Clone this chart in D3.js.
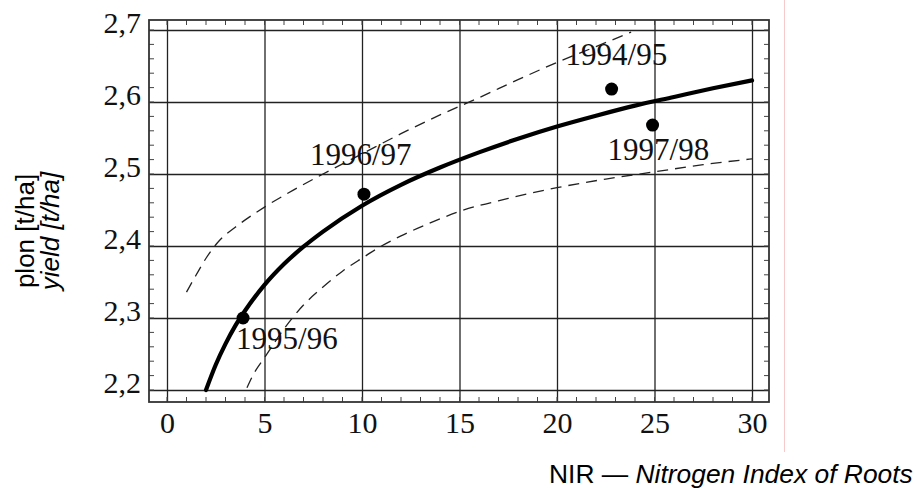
<!DOCTYPE html>
<html>
<head>
<meta charset="utf-8">
<script src="https://cdn.jsdelivr.net/npm/d3@7"></script>
<style>
  html, body { margin: 0; padding: 0; background: #fff; }
  svg { display: block; }
</style>
</head>
<body>
<svg id="chart" width="918" height="488"></svg>
<script>
// ---------- data ----------
const xTicks = [0, 5, 10, 15, 20, 25, 30];
const xTickLabels = ["0", "5", "10", "15", "20", "25", "30"];
const yTicks = [2.2, 2.3, 2.4, 2.5, 2.6, 2.7];
const yTickLabels = ["2,2", "2,3", "2,4", "2,5", "2,6", "2,7"];

// fitted (regression) curve
const fitX = [2, 2.5, 3, 3.5, 4, 5, 6, 7, 8, 10, 12, 14, 16, 18, 20, 22, 24, 26, 28, 30];
const fitY = [2.200, 2.235, 2.264, 2.289, 2.310, 2.346, 2.375, 2.399, 2.420, 2.456,
              2.485, 2.509, 2.530, 2.549, 2.566, 2.581, 2.595, 2.607, 2.619, 2.630];

// upper confidence band (dashed)
const upperX = [1, 1.5, 2, 2.7, 3.5, 5, 6.5, 8, 10, 12, 14, 16, 18, 20, 22, 23.8];
const upperY = [2.336, 2.360, 2.383, 2.408, 2.426, 2.454, 2.478, 2.500, 2.528,
                2.556, 2.582, 2.606, 2.631, 2.655, 2.677, 2.697];

// lower confidence band (dashed)
const lowerX = [4.1, 4.5, 5, 6, 7, 8, 9, 10, 11, 12, 13.5, 15, 17.5, 20, 22.5, 25, 27.5, 30];
const lowerY = [2.203, 2.225, 2.245, 2.285, 2.318, 2.343, 2.365, 2.383, 2.400, 2.414,
                2.432, 2.448, 2.466, 2.481, 2.493, 2.503, 2.513, 2.521];

// observed seasons
const seasons = ["1994/95", "1997/98", "1996/97", "1995/96"];
const nirValues = [22.8, 24.9, 10.1, 3.9];
const yieldValues = [2.618, 2.568, 2.472, 2.300];

const yLabel1 = "plon [t/ha]";
const yLabel2 = "yield [t/ha]";
const xLabel1 = "NIR \u2014 ";
const xLabel2 = "Nitrogen Index of Roots";

// ---------- layout ----------
const svg = d3.select("#chart");
const x = d3.scaleLinear().domain([0, 30]).range([167, 752]);
const y = d3.scaleLinear().domain([2.2, 2.7]).range([390, 30]);

const frame = { left: x(0) - 18, right: x(30) + 17, top: y(2.7) - 10, bottom: y(2.2) + 12 };
const frameW = frame.right - frame.left;
const frameH = frame.bottom - frame.top;

const serif = "'Liberation Serif', 'Times New Roman', serif";
const sans = "'Liberation Sans', Arial, sans-serif";

// faint red line at right (scan artefact)
svg.append("line")
  .attr("x1", 784.5).attr("x2", 784.5).attr("y1", 0).attr("y2", 452)
  .attr("stroke", "#f6caca").attr("stroke-width", 1);

// ---------- grid + tick labels via axes ----------
const gx = svg.append("g")
  .attr("transform", `translate(0,${frame.bottom})`)
  .call(d3.axisBottom(x).tickValues(xTicks).tickSize(-frameH)
        .tickFormat((d, i) => xTickLabels[i]));
gx.select(".domain").remove();
gx.selectAll(".tick line").attr("stroke", "#222").attr("stroke-width", 1.3);
gx.selectAll(".tick text")
  .attr("y", 31).attr("dy", 0)
  .attr("fill", "#111")
  .style("font-family", serif).style("font-size", "30px");

const gy = svg.append("g")
  .attr("transform", `translate(${frame.left},0)`)
  .call(d3.axisLeft(y).tickValues(yTicks).tickSize(-frameW)
        .tickFormat((d, i) => yTickLabels[i]));
gy.select(".domain").remove();
gy.selectAll(".tick line").attr("stroke", "#222").attr("stroke-width", 1.3);
gy.selectAll(".tick text")
  .attr("x", -8).attr("dy", 2)
  .attr("fill", "#111")
  .style("font-family", serif).style("font-size", "30px");

// ---------- minor ticks inside frame ----------
const minorX = d3.range(0, 31, 1);
const minorY = d3.range(2.2, 2.7001, 0.02);
const tickLen = 5;
const mt = svg.append("g").attr("stroke", "#444").attr("stroke-width", 1);
mt.selectAll(".mtop").data(minorX).join("line")
  .attr("x1", d => x(d)).attr("x2", d => x(d))
  .attr("y1", frame.top).attr("y2", frame.top + tickLen);
mt.selectAll(".mbot").data(minorX).join("line")
  .attr("x1", d => x(d)).attr("x2", d => x(d))
  .attr("y1", frame.bottom).attr("y2", frame.bottom - tickLen);
mt.selectAll(".mleft").data(minorY).join("line")
  .attr("y1", d => y(d)).attr("y2", d => y(d))
  .attr("x1", frame.left).attr("x2", frame.left + tickLen);
mt.selectAll(".mright").data(minorY).join("line")
  .attr("y1", d => y(d)).attr("y2", d => y(d))
  .attr("x1", frame.right).attr("x2", frame.right - tickLen);

// frame
svg.append("rect")
  .attr("x", frame.left).attr("y", frame.top)
  .attr("width", frameW).attr("height", frameH)
  .attr("fill", "none").attr("stroke", "#333").attr("stroke-width", 1.8);

// ---------- curves ----------
const line = d3.line().x(d => x(d[0])).y(d => y(d[1])).curve(d3.curveMonotoneX);

svg.append("path")
  .datum(upperX.map((v, i) => [v, upperY[i]]))
  .attr("d", line)
  .attr("fill", "none").attr("stroke", "#222").attr("stroke-width", 1.3)
  .attr("stroke-dasharray", "11,7");

svg.append("path")
  .datum(lowerX.map((v, i) => [v, lowerY[i]]))
  .attr("d", line)
  .attr("fill", "none").attr("stroke", "#222").attr("stroke-width", 1.3)
  .attr("stroke-dasharray", "11,7");

svg.append("path")
  .datum(fitX.map((v, i) => [v, fitY[i]]))
  .attr("d", line)
  .attr("fill", "none").attr("stroke", "#000").attr("stroke-width", 4.2)
  .attr("stroke-linecap", "round");

// ---------- points + season labels ----------
const labelOffset = [[-46, -24], [-45, 35], [-54, -29], [-7, 31]];
const pts = seasons.map((s, i) => ({ s, nx: nirValues[i], vy: yieldValues[i], off: labelOffset[i] }));

svg.selectAll(".pt").data(pts).join("circle")
  .attr("cx", d => x(d.nx)).attr("cy", d => y(d.vy)).attr("r", 6.5)
  .attr("fill", "#000");

svg.selectAll(".lbl").data(pts).join("text")
  .attr("x", d => x(d.nx) + d.off[0]).attr("y", d => y(d.vy) + d.off[1])
  .attr("fill", "#111")
  .style("font-family", serif).style("font-size", "31px")
  .text(d => d.s);

// ---------- axis titles ----------
const yt = svg.append("g").attr("transform", "translate(0,231) rotate(-90)");
yt.append("text").attr("x", 0).attr("y", 34).attr("text-anchor", "middle")
  .style("font-family", sans).style("font-size", "26px").attr("fill", "#000")
  .text(yLabel1);
yt.append("text").attr("x", 0).attr("y", 59).attr("text-anchor", "middle")
  .style("font-family", sans).style("font-size", "26px").style("font-style", "italic")
  .attr("fill", "#000").text(yLabel2);

const xt = svg.append("text").attr("x", 549).attr("y", 483)
  .style("font-family", sans).style("font-size", "26.4px").attr("fill", "#000");
xt.append("tspan").text(xLabel1);
xt.append("tspan").style("font-style", "italic").text(xLabel2);
</script>
</body>
</html>
